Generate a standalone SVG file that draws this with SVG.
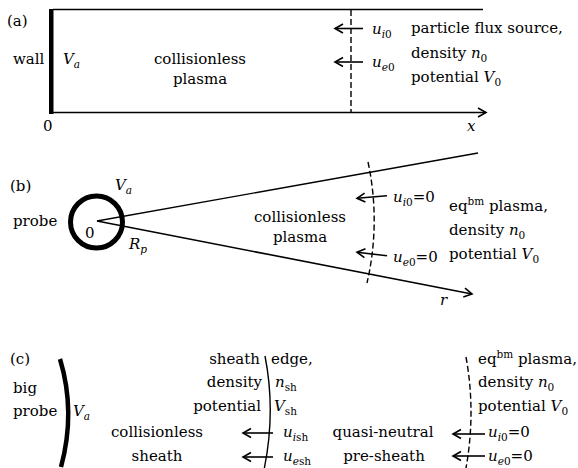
<svg xmlns="http://www.w3.org/2000/svg" width="578" height="468" viewBox="0 0 578 468">
<defs>
<style>
text{font-family:'DejaVu Serif',serif;font-size:15px;fill:#000}
.i{font-style:italic}
.s{font-size:10.5px}
.ln{stroke:#000;fill:none;stroke-width:1.4}
.ar{stroke:#000;fill:none;stroke-width:1.6;marker-end:url(#ah)}
.dash{stroke:#000;fill:none;stroke-width:1.4;stroke-dasharray:6 3}
</style>
<marker id="ah" markerWidth="12" markerHeight="12" refX="10" refY="6" orient="auto" markerUnits="userSpaceOnUse">
<path d="M2,1.5 L10,6 L2,10.5" fill="none" stroke="#000" stroke-width="1.6"/>
</marker>
</defs>
<rect width="578" height="468" fill="#fff"/>

<!-- Panel (a) -->
<g id="panel-a">
  <text x="7" y="26">(a)</text>
  <g id="a-wall">
    <rect x="49" y="9" width="4.5" height="105" fill="#000"/>
    <text x="13" y="64">wall</text>
    <text x="63" y="64"><tspan class="i">V</tspan><tspan class="s i" dy="4">a</tspan></text>
    <text x="43" y="131">0</text>
  </g>
  <g id="a-plasma">
    <text x="200" y="64" text-anchor="middle">collisionless</text>
    <text x="200" y="84" text-anchor="middle">plasma</text>
  </g>
  <g id="a-source">
    <text x="411" y="33">particle flux source,</text>
    <text x="411" y="58">density <tspan class="i">n</tspan><tspan class="s" dy="4">0</tspan></text>
    <text x="411" y="82">potential <tspan class="i">V</tspan><tspan class="s" dy="4">0</tspan></text>
    <text x="372" y="34"><tspan class="i">u</tspan><tspan class="s" dy="4"><tspan class="i">i</tspan>0</tspan></text>
    <text x="372" y="67"><tspan class="i">u</tspan><tspan class="s" dy="4"><tspan class="i">e</tspan>0</tspan></text>
  </g>
  <text class="i" x="467" y="131">x</text>
</g>

<!-- Panel (b) -->
<g id="panel-b">
  <text x="10" y="191">(b)</text>
  <g id="b-probe">
    <circle cx="96.5" cy="222" r="26" fill="none" stroke="#000" stroke-width="5"/>
    <text x="13" y="226">probe</text>
    <text x="115" y="190"><tspan class="i">V</tspan><tspan class="s i" dy="4">a</tspan></text>
    <text x="85" y="238">0</text>
    <text x="129" y="249"><tspan class="i">R</tspan><tspan class="s i" dy="4">p</tspan></text>
  </g>
  <g id="b-plasma">
    <text x="300" y="222" text-anchor="middle">collisionless</text>
    <text x="300" y="242" text-anchor="middle">plasma</text>
  </g>
  <g id="b-source">
    <text x="449" y="211">eq<tspan class="s" dy="-6">bm</tspan><tspan dy="6"> plasma,</tspan></text>
    <text x="449" y="235">density <tspan class="i">n</tspan><tspan class="s" dy="4">0</tspan></text>
    <text x="449" y="259">potential <tspan class="i">V</tspan><tspan class="s" dy="4">0</tspan></text>
    <text x="393" y="202"><tspan class="i">u</tspan><tspan class="s" dy="4"><tspan class="i">i</tspan>0</tspan><tspan dy="-4">=0</tspan></text>
    <text x="393" y="262"><tspan class="i">u</tspan><tspan class="s" dy="4"><tspan class="i">e</tspan>0</tspan><tspan dy="-4">=0</tspan></text>
  </g>
  <text class="i" x="440" y="305">r</text>
</g>

<!-- Panel (c) -->
<g id="panel-c">
  <text x="10" y="364">(c)</text>
  <g id="c-probe">
    <path d="M60,359 Q76,412 61,467" fill="none" stroke="#000" stroke-width="4.5"/>
    <text x="13" y="393">big</text>
    <text x="13" y="416">probe</text>
    <text x="73" y="416"><tspan class="i">V</tspan><tspan class="s i" dy="4">a</tspan></text>
  </g>
  <g id="c-sheath">
    <text x="157" y="437" text-anchor="middle">collisionless</text>
    <text x="157" y="461" text-anchor="middle">sheath</text>
  </g>
  <g id="c-edge">
    <path class="ln" d="M265,356 Q276,412 264,470" stroke-width="1.2"/>
    <text x="260" y="364" text-anchor="end">sheath</text>
    <text x="271" y="364">edge,</text>
    <text x="262" y="387" text-anchor="end">density</text>
    <text x="275" y="387"><tspan class="i">n</tspan><tspan class="s" dy="4">sh</tspan></text>
    <text x="261" y="411" text-anchor="end">potential</text>
    <text x="274" y="411"><tspan class="i">V</tspan><tspan class="s" dy="4">sh</tspan></text>
    <text x="283" y="437"><tspan class="i">u</tspan><tspan class="s" dy="4"><tspan class="i">i</tspan>sh</tspan></text>
    <text x="283" y="461"><tspan class="i">u</tspan><tspan class="s" dy="4"><tspan class="i">e</tspan>sh</tspan></text>
  </g>
  <g id="c-presheath">
    <text x="383" y="437" text-anchor="middle">quasi-neutral</text>
    <text x="384" y="461" text-anchor="middle">pre-sheath</text>
  </g>
  <g id="c-source">
    <text x="478" y="364">eq<tspan class="s" dy="-6">bm</tspan><tspan dy="6"> plasma,</tspan></text>
    <text x="478" y="387">density <tspan class="i">n</tspan><tspan class="s" dy="4">0</tspan></text>
    <text x="478" y="411">potential <tspan class="i">V</tspan><tspan class="s" dy="4">0</tspan></text>
    <text x="488" y="437"><tspan class="i">u</tspan><tspan class="s" dy="4"><tspan class="i">i</tspan>0</tspan><tspan dy="-4">=0</tspan></text>
    <text x="488" y="461"><tspan class="i">u</tspan><tspan class="s" dy="4"><tspan class="i">e</tspan>0</tspan><tspan dy="-4">=0</tspan></text>
  </g>
</g>

<!-- Connectors / lines -->
<g id="connectors">
  <line class="ln" x1="53" y1="9.5" x2="483" y2="9.5"/>
  <line class="ar" x1="50" y1="112.5" x2="486" y2="112.5" stroke-width="1.5"/>
  <line class="dash" x1="351" y1="10" x2="351" y2="112"/>
  <line class="ar" x1="363" y1="28.5" x2="335" y2="28.5"/>
  <line class="ar" x1="363" y1="62" x2="335" y2="62"/>

  <line class="ln" x1="97" y1="221" x2="478" y2="153" stroke-width="1.3"/>
  <line class="ar" x1="97" y1="221" x2="472" y2="294" stroke-width="2"/>
  <path class="dash" d="M368,162 A277,277 0 0 1 367,283"/>
  <line class="ar" x1="387" y1="195.7" x2="357" y2="198.3"/>
  <line class="ar" x1="387" y1="255.8" x2="357" y2="252.2"/>

  <path class="dash" d="M466,357 Q476,412 466,468"/>
  <line class="ar" x1="273" y1="433" x2="243" y2="433"/>
  <line class="ar" x1="273" y1="457" x2="243" y2="457"/>
  <line class="ar" x1="485" y1="434" x2="453" y2="434"/>
  <line class="ar" x1="485" y1="456" x2="453" y2="456"/>
</g>
</svg>
